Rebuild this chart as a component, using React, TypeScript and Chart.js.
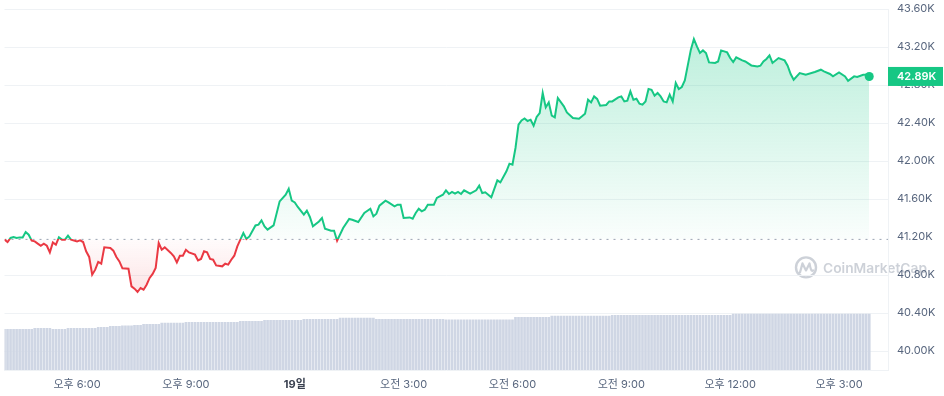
import React, { useEffect, useRef } from "react";
import { Chart, registerables } from "chart.js";

Chart.register(...registerables);

// ---- data ----
// time is measured in minutes since 16:00 (day 18); price data is in 5-minute slots
const X_MAX_MINUTES = 1461;
const X_TICK_MINUTES = [120, 300, 480, 660, 840, 1020, 1200, 1380];
const X_TICK_LABELS = ["오후 6:00", "오후 9:00", "19일", "오전 3:00", "오전 6:00", "오전 9:00", "오후 12:00", "오후 3:00"];
const Y_TICKS = [40000, 40400, 40800, 41200, 41600, 42000, 42400, 42800, 43200, 43600];
const Y_MIN = 39800;
const Y_MAX = 43600;
const BASELINE = 41175;
const LAST_PRICE_LABEL = "42.89K";

const LINE_SLOTS = [
  0, 1, 2, 3, 4, 5, 6, 7, 8, 9, 10, 11, 12, 13, 14, 15, 16, 17, 18, 19, 20, 21, 22, 24, 25, 26, 27, 28, 29, 30,
  31, 32, 33, 35, 36, 37, 38, 39, 41, 42, 43, 44, 45, 46, 47, 48, 49, 50, 51, 52, 53, 55, 56, 57, 58, 59, 60, 61, 63, 64,
  65, 66, 67, 68, 69, 70, 72, 73, 74, 75, 76, 77, 78, 79, 80, 81, 83, 84, 85, 86, 87, 89, 91, 93, 94, 95, 96, 97, 99, 100,
  101, 102, 104, 105, 106, 108, 109, 110, 112, 114, 115, 117, 119, 121, 122, 123, 124, 126, 127, 129, 130, 131, 132, 134, 135, 136, 137, 138, 139, 140,
  142, 143, 145, 146, 147, 148, 149, 150, 151, 152, 154, 156, 157, 158, 159, 161, 163, 164, 166, 167, 168, 169, 170, 171, 172, 173, 174, 175, 176, 177,
  178, 179, 180, 181, 182, 183, 185, 186, 188, 190, 191, 192, 193, 194, 195, 196, 197, 199, 200, 201, 203, 204, 205, 206, 207, 208, 209, 210, 211, 212,
  213, 214, 215, 216, 217, 218, 219, 220, 221, 222, 223, 224, 225, 227, 228, 229, 230, 231, 232, 233, 235, 236, 237, 239, 240, 241, 242, 244, 245, 247,
  249, 250, 251, 252, 253, 254, 256, 258, 259, 260, 261, 263, 265, 268, 270, 271, 273, 274, 276, 278, 279, 281, 282, 284, 285, 286,
];

const LINE_PRICES = [
  41172, 41147, 41190, 41200, 41190, 41196, 41196, 41253, 41224, 41161, 41154, 41130, 41108, 41130, 41108, 41038, 41143, 41119, 41196, 41172, 41172, 41214, 41172, 41154, 41164, 41147, 41049, 40990, 40803, 40856,
  40937, 40919, 41091, 41084, 41056, 40990, 40943, 40870, 40866, 40680, 40656, 40621, 40663, 40645, 40698, 40769, 40811, 40874, 41137, 41066, 41091, 41032, 40996, 40933, 41003, 41003, 41066, 41038, 41014, 40954,
  40969, 41049, 41038, 40969, 40961, 40901, 40891, 40919, 40909, 40961, 41003, 41101, 41172, 41242, 41179, 41206, 41322, 41330, 41375, 41312, 41277, 41322, 41575, 41645, 41708, 41582, 41564, 41516, 41435, 41477,
  41411, 41312, 41364, 41400, 41287, 41266, 41266, 41160, 41295, 41390, 41382, 41358, 41453, 41498, 41417, 41445, 41530, 41582, 41564, 41522, 41540, 41540, 41400, 41406, 41393, 41453, 41498, 41470, 41487, 41540,
  41540, 41611, 41645, 41691, 41653, 41674, 41656, 41674, 41653, 41691, 41656, 41691, 41740, 41663, 41670, 41618, 41796, 41775, 41891, 41972, 41961, 42137, 42382, 42427, 42448, 42421, 42435, 42372, 42463, 42505,
  42716, 42564, 42617, 42477, 42459, 42663, 42575, 42512, 42453, 42445, 42470, 42498, 42645, 42617, 42680, 42653, 42582, 42590, 42627, 42627, 42670, 42680, 42627, 42635, 42733, 42645, 42656, 42603, 42593, 42627,
  42758, 42750, 42687, 42716, 42680, 42627, 42617, 42698, 42627, 42821, 42758, 42779, 42848, 43172, 43284, 43206, 43137, 43164, 43137, 43038, 43032, 43048, 43164, 43143, 43084, 43042, 43091, 43059, 43048, 43006,
  42996, 43003, 43048, 43074, 43112, 43032, 43084, 43059, 43003, 42916, 42856, 42926, 42908, 42937, 42961, 42943, 42916, 42891, 42933, 42891, 42845, 42891, 42884, 42908, 42908, 42890,
];

// 24h volume (arbitrary units), one value per 5-minute slot 0..286
const VOLUME = [
  14.4, 14.4, 14.4, 14.4, 14.4, 14.4, 14.4, 14.4, 14.4, 14.4,
  14.8, 14.8, 14.8, 14.8, 14.8, 14.8, 14.4, 14.4, 14.4, 14.4,
  14.4, 14.8, 14.8, 14.8, 14.8, 14.8, 14.8, 14.8, 14.8, 14.8,
  14.8, 15.1, 15.1, 15.1, 15.1, 15.5, 15.5, 15.5, 15.5, 15.7,
  15.7, 15.7, 15.7, 15.8, 15.8, 15.8, 16.2, 16.2, 16.2, 16.2,
  16.2, 16.2, 16.6, 16.6, 16.6, 16.6, 16.6, 16.6, 16.6, 16.6,
  16.9, 16.9, 16.9, 16.9, 16.9, 16.9, 16.9, 16.9, 16.9, 16.9,
  16.9, 16.9, 16.9, 16.9, 16.9, 16.9, 16.9, 16.9, 17.3, 17.3,
  17.3, 17.3, 17.3, 17.3, 17.3, 17.3, 17.6, 17.6, 17.6, 17.6,
  17.6, 17.6, 17.6, 17.6, 17.6, 17.6, 17.6, 17.6, 17.6, 18.0,
  18.0, 18.0, 18.0, 18.0, 18.0, 18.0, 18.0, 18.0, 18.0, 18.0,
  18.0, 18.4, 18.4, 18.4, 18.4, 18.4, 18.4, 18.4, 18.4, 18.4,
  18.4, 18.4, 18.4, 18.0, 18.0, 18.0, 18.0, 18.0, 18.0, 18.0,
  18.0, 18.0, 18.0, 18.0, 18.0, 18.0, 18.0, 18.0, 18.0, 18.0,
  18.0, 18.0, 18.0, 18.0, 18.0, 18.0, 17.8, 17.8, 17.8, 17.8,
  17.8, 17.8, 17.8, 17.8, 17.8, 17.8, 17.8, 17.8, 17.8, 17.8,
  17.8, 17.8, 17.8, 17.8, 17.8, 17.8, 17.8, 17.8, 17.8, 18.7,
  18.7, 18.7, 18.7, 18.7, 18.7, 18.7, 18.7, 18.7, 18.7, 18.7,
  18.7, 19.1, 19.1, 19.1, 19.1, 19.1, 19.1, 19.1, 19.1, 19.1,
  19.1, 19.1, 19.1, 19.1, 19.1, 19.1, 19.1, 19.1, 19.1, 19.1,
  19.1, 19.4, 19.4, 19.4, 19.4, 19.4, 19.4, 19.4, 19.4, 19.4,
  19.4, 19.4, 19.4, 19.4, 19.4, 19.4, 19.4, 19.4, 19.4, 19.4,
  19.4, 19.4, 19.4, 19.4, 19.4, 19.4, 19.4, 19.4, 19.4, 19.4,
  19.4, 19.4, 19.4, 19.4, 19.4, 19.4, 19.4, 19.4, 19.4, 19.4,
  19.4, 19.8, 19.8, 19.8, 19.8, 19.8, 19.8, 19.8, 19.8, 19.8,
  19.8, 19.8, 19.8, 19.8, 19.8, 19.8, 19.8, 19.8, 19.8, 19.8,
  19.8, 19.8, 19.8, 19.8, 19.8, 19.8, 19.8, 19.8, 19.8, 19.8,
  19.8, 19.8, 19.8, 19.8, 19.8, 19.8, 19.8, 19.8, 19.8, 19.8,
  19.8, 19.8, 19.8, 19.8, 19.8, 19.8, 19.8,
];
const VOLUME_AXIS_MAX = 128;

// ---- styles ----
const GREEN = "#16c784";
const RED = "#ea3943";
const GRID = "#eff2f5";
const TICK_COLOR = "#58667e";
const FONT = 'Inter, "Noto Sans CJK KR", "Noto Sans", sans-serif';

const watermarkPlugin = {
  id: "watermark",
  beforeDraw(chart: any) {
    const ctx = chart.ctx as CanvasRenderingContext2D;
    const { chartArea } = chart;
    ctx.save();
    const color = "rgba(88,102,126,0.30)";
    const cx = chartArea.right - 82;
    const cy = chart.scales.y.getPixelForValue(40880);
    ctx.strokeStyle = color;
    ctx.lineWidth = 2.4;
    ctx.beginPath();
    ctx.arc(cx, cy, 10, 0, Math.PI * 2);
    ctx.stroke();
    ctx.lineWidth = 2.2;
    ctx.lineJoin = "round";
    ctx.lineCap = "round";
    ctx.beginPath();
    ctx.moveTo(cx - 6, cy + 5);
    ctx.lineTo(cx - 3.5, cy - 4);
    ctx.lineTo(cx, cy + 3);
    ctx.lineTo(cx + 3.5, cy - 4);
    ctx.quadraticCurveTo(cx + 5, cy + 5, cx + 7, cy + 3);
    ctx.stroke();
    ctx.fillStyle = color;
    ctx.font = `600 16px ${FONT}`;
    ctx.textBaseline = "middle";
    ctx.textAlign = "left";
    const text = "CoinMarketCap";
    const w = ctx.measureText(text).width;
    const target = 104;
    const size = 16 * (target / w);
    ctx.font = `600 ${size.toFixed(2)}px ${FONT}`;
    ctx.fillText(text, cx + 17, cy + 1);
    ctx.restore();
  },
};

const priceLabelPlugin = {
  id: "priceLabel",
  afterDraw(chart: any) {
    const ctx = chart.ctx as CanvasRenderingContext2D;
    const ys = chart.scales.y;
    const last = LINE_PRICES[LINE_PRICES.length - 1];
    const y = ys.getPixelForValue(last);
    const left = chart.chartArea.right;
    ctx.save();
    ctx.fillStyle = GREEN;
    ctx.fillRect(left, y - 9.5, chart.width - left - 1, 19);
    ctx.fillStyle = "#ffffff";
    ctx.font = `600 11px ${FONT}`;
    ctx.textBaseline = "middle";
    ctx.textAlign = "left";
    ctx.fillText(LAST_PRICE_LABEL, left + 9, y + 0.5);
    ctx.restore();
  },
};

export default function App() {
  const ref = useRef<HTMLCanvasElement>(null);

  useEffect(() => {
    const canvas = ref.current;
    if (!canvas) return;
    Chart.defaults.font.family = FONT;
    const priceData = LINE_SLOTS.map((s, i) => ({ x: s * 5, y: LINE_PRICES[i] }));
    const volumeData = VOLUME.map((v, i) => ({ x: i * 5, y: v }));
    const baselineData = [
      { x: 0, y: BASELINE },
      { x: X_MAX_MINUTES, y: BASELINE },
    ];
    const lastIndex = priceData.length - 1;

    const chart = new Chart(canvas, {
      type: "line",
      data: {
        datasets: [
          {
            type: "line",
            data: priceData,
            borderColor: GREEN,
            borderWidth: 2,
            tension: 0,
            pointRadius: (c: any) => (c.dataIndex === lastIndex ? 4.5 : 0),
            pointBackgroundColor: GREEN,
            pointBorderWidth: 0,
            fill: { target: { value: BASELINE }, above: "rgba(22,199,132,0.12)", below: "rgba(234,57,67,0.1)" },
            order: 0,
            yAxisID: "y",
          } as any,
          {
            type: "line",
            data: baselineData,
            borderColor: "#9aa3b2",
            borderWidth: 1,
            borderDash: [2, 5],
            pointRadius: 0,
            fill: false,
            order: 1,
            yAxisID: "y",
          },
          {
            type: "bar",
            data: volumeData,
            backgroundColor: "rgb(207,214,228)",
            barThickness: 2,
            order: 2,
            yAxisID: "yv",
          } as any,
        ],
      },
      options: {
        animation: false,
        responsive: false,
        devicePixelRatio: 1,
        layout: { padding: { top: 9, left: 0, right: 0, bottom: 0 } },
        plugins: {
          legend: { display: false },
          tooltip: { enabled: false },
        },
        scales: {
          x: {
            type: "linear",
            min: 0,
            max: X_MAX_MINUTES,
            offset: false,
            position: "bottom",
            grid: { display: false, drawTicks: false, offset: false },
            border: { display: true, color: GRID },
            afterBuildTicks: (s: any) => {
              s.ticks = X_TICK_MINUTES.map((v) => ({ value: v }));
            },
            afterFit: (s: any) => {
              s.height = 26;
            },
            ticks: {
              autoSkip: false,
              maxRotation: 0,
              padding: 8,
              color: (c: any) => (c.index === 2 ? "#3a4150" : TICK_COLOR),
              font: (c: any) => (c.index === 2 ? { size: 11, weight: "bold" } : { size: 11 }),
              callback: (_v: any, i: number) => X_TICK_LABELS[i],
            },
          },
          y: {
            type: "linear",
            position: "right",
            min: Y_MIN,
            max: Y_MAX,
            grid: {
              drawTicks: true,
              tickLength: 9,
              tickColor: "rgba(0,0,0,0)",
              color: (c: any) => (c.tick && c.tick.value === 41200 ? "rgba(0,0,0,0)" : GRID),
            },
            border: { display: true, color: GRID },
            afterBuildTicks: (s: any) => {
              s.ticks = Y_TICKS.map((v) => ({ value: v }));
            },
            afterFit: (s: any) => {
              s.width = 56;
            },
            ticks: {
              padding: 0,
              color: TICK_COLOR,
              font: { size: 11 },
              callback: (v: any) => (Number(v) / 1000).toFixed(2) + "K",
            },
          },
          yv: {
            type: "linear",
            display: false,
            min: 0,
            max: VOLUME_AXIS_MAX,
          },
        },
      } as any,
      plugins: [watermarkPlugin, priceLabelPlugin],
    });

    // gradients built from the scale positions
    const area = chart.chartArea;
    const ys = chart.scales.y;
    const basePx = ys.getPixelForValue(BASELINE);
    const ctx = chart.ctx;
    const up = ctx.createLinearGradient(0, area.top, 0, basePx);
    up.addColorStop(0, "rgba(22,199,132,0.32)");
    up.addColorStop(1, "rgba(22,199,132,0.02)");
    const down = ctx.createLinearGradient(0, basePx, 0, area.bottom);
    down.addColorStop(0, "rgba(234,57,67,0.02)");
    down.addColorStop(1, "rgba(234,57,67,0.30)");
    const stroke = ctx.createLinearGradient(0, area.top, 0, area.bottom);
    const f = (basePx - area.top) / (area.bottom - area.top);
    stroke.addColorStop(0, GREEN);
    stroke.addColorStop(f, GREEN);
    stroke.addColorStop(f, RED);
    stroke.addColorStop(1, RED);
    const ds: any = chart.data.datasets[0];
    ds.borderColor = stroke;
    ds.fill = { target: { value: BASELINE }, above: up, below: down };
    chart.update();

    return () => chart.destroy();
  }, []);

  return (
    <div style={{ position: "fixed", left: 0, top: 0, width: 944, height: 396, background: "#ffffff" }}>
      <canvas ref={ref} width={944} height={396} style={{ display: "block", width: 944, height: 396 }} />
    </div>
  );
}
